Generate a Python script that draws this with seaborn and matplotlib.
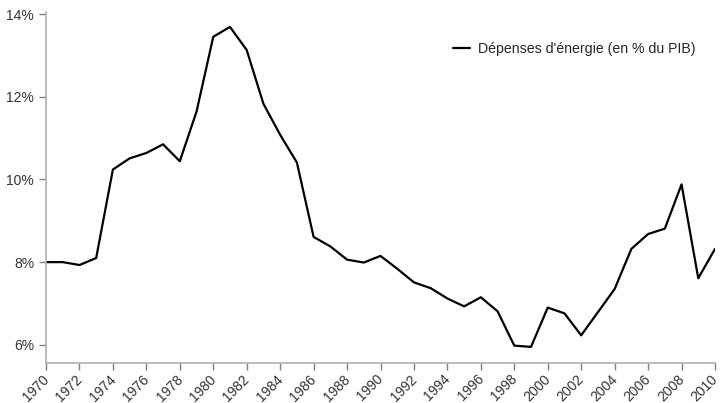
import pandas as pd
import seaborn as sns
import matplotlib.pyplot as plt
import matplotlib.transforms as mtransforms
from matplotlib.ticker import FuncFormatter

# Données : dépenses d'énergie en % du PIB
annees = list(range(1970, 2011))
depenses = [8.0, 8.0, 7.93, 8.1, 10.24, 10.51, 10.64, 10.85, 10.44, 11.64,
            13.45, 13.69, 13.13, 11.83, 11.08, 10.41, 8.61, 8.38, 8.06, 7.99,
            8.15, 7.84, 7.51, 7.37, 7.12, 6.93, 7.15, 6.81, 5.98, 5.95,
            6.90, 6.76, 6.23, 6.79, 7.35, 8.32, 8.68, 8.81, 9.88, 7.61,
            8.32]
serie = "Dépenses d'énergie (en % du PIB)"

df = pd.DataFrame({'Année': annees, 'Valeur': depenses})

sns.set_style("ticks")
plt.rcParams['font.family'] = ['Liberation Sans', 'DejaVu Sans']

fig = plt.figure(figsize=(7.23, 4.03), dpi=100)
ax = fig.add_axes([46/723, 1 - 363/403, 669/723, 351/403])

sns.lineplot(data=df, x='Année', y='Valeur', color='black', linewidth=1.6,
             label=serie, ax=ax)

ax.set_xlim(1970, 2010)
ax.set_ylim(5.56, 14.05)
ax.set_xticks(range(1970, 2011, 2))
ax.set_yticks([6, 8, 10, 12, 14])
ax.yaxis.set_major_formatter(FuncFormatter(lambda v, p: f"{v:.0f}%"))
ax.set_xlabel('')
ax.set_ylabel('')

for s in ['top', 'right']:
    ax.spines[s].set_visible(False)
for s in ['left', 'bottom']:
    ax.spines[s].set_color('#b0b0b0')
    ax.spines[s].set_linewidth(1.2)
ax.tick_params(colors='#808080', labelcolor='#333333', length=5, width=1,
               labelsize=10)
ax.tick_params(axis='x', pad=1.5)
decalage = mtransforms.ScaledTranslation(-3/72, 0, fig.dpi_scale_trans)
for lab in ax.get_xticklabels():
    lab.set_rotation(45)
    lab.set_ha('right')
    lab.set_rotation_mode('anchor')
    lab.set_transform(lab.get_transform() + decalage)

ax.legend(frameon=False, loc='upper right', fontsize=10.2, handlelength=1.2,
          handletextpad=0.6, bbox_to_anchor=(0.99, 0.95))

fig.savefig('out.png', dpi=100)
